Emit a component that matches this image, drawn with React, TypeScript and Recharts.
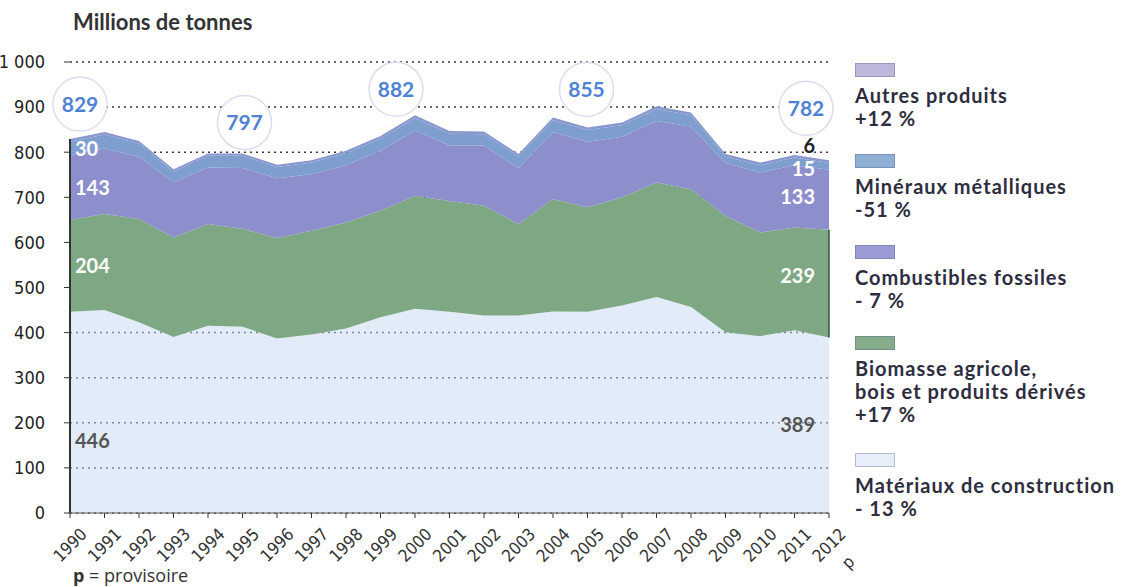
import React from 'react';
import { AreaChart, Area, XAxis, YAxis, CartesianGrid, ReferenceDot, ReferenceLine } from 'recharts';

const YEARS = ['1990', '1991', '1992', '1993', '1994', '1995', '1996', '1997', '1998', '1999', '2000', '2001', '2002', '2003', '2004', '2005', '2006', '2007', '2008', '2009', '2010', '2011', '2012'];
const CONSTRUCTION = [446, 450, 423, 390, 415, 413, 387, 396, 409, 434, 453, 446, 438, 438, 447, 446, 460, 479, 457, 401, 392, 405, 389];
const BIOMASSE = [204, 213, 229, 221, 226, 217, 223, 230, 235, 236, 250, 246, 243, 203, 249, 232, 240, 254, 261, 258, 230, 228, 239];
const FOSSILES = [143, 145, 138, 122, 125, 135, 132, 125, 127, 133, 145, 123, 134, 124, 148, 145, 134, 136, 139, 117, 133, 138, 133];
const MINERAUX = [30, 31, 29, 24, 26, 27, 25, 26, 27, 27, 28, 26, 25, 25, 27, 26, 26, 27, 25, 14, 16, 17, 15];
const AUTRES = [6, 6, 6, 5, 5, 5, 5, 5, 5, 6, 6, 6, 6, 6, 6, 6, 6, 6, 6, 6, 6, 6, 6];
const Y_TICKS = [0, 100, 200, 300, 400, 500, 600, 700, 800, 900, 1000];
const BUBBLE_YEARS = ['1990', '1995', '2000', '2005', '2012'];

// stack order, bottom first
const SERIES = [
  { key: 'construction', values: CONSTRUCTION, name: 'Matériaux de construction', change: '- 13 %', color: '#c6daf1', swatch: '#e6eff9' },
  { key: 'biomasse', values: BIOMASSE, name: 'Biomasse agricole,\nbois et produits dérivés', change: '+17 %', color: '#7ea784', swatch: '#86ad8b' },
  { key: 'fossiles', values: FOSSILES, name: 'Combustibles fossiles', change: '- 7 %', color: '#8d8fcc', swatch: '#9d9bd6' },
  { key: 'mineraux', values: MINERAUX, name: 'Minéraux métalliques', change: '-51 %', color: '#7e9ecd', swatch: '#8eafd3' },
  { key: 'autres', values: AUTRES, name: 'Autres produits', change: '+12 %', color: '#8898cf', swatch: '#bcb8dc' },
];

const data = YEARS.map((year, i) => {
  const row: Record<string, any> = { year };
  SERIES.forEach((s) => (row[s.key] = s.values[i]));
  return row;
});

const total = (i: number) => SERIES.reduce((acc, s) => acc + s.values[i], 0);
const baseOf = (si: number, i: number) => SERIES.slice(0, si).reduce((acc, s) => acc + s.values[i], 0);

// pixel placement of the total bubbles
const BUBBLE_OFFSET: Record<string, [number, number]> = {
  '1990': [10, -35],
  '1995': [2, -31],
  '2000': [-19, -26],
  '2005': [-1, -38],
  '2012': [-23, -52],
};

const labelFont = "Lato, 'Open Sans', sans-serif";
const narrowFont = "'Liberation Sans Narrow', 'DejaVu Sans Condensed', sans-serif";

const YearTick = (props: any) => {
  const { x, y, payload } = props;
  return (
    <g transform={`translate(${x},${y})`}>
      <text transform="translate(0,25) rotate(-45)" textAnchor="middle" dy="0.35em" fontFamily={narrowFont} fontSize={17} fill="#333">
        {payload.value}
      </text>
      {payload.value === '2012' && (
        <text transform="translate(19,42) rotate(-45)" textAnchor="middle" dy="0.35em" fontFamily={narrowFont} fontSize={17} fill="#333">
          p
        </text>
      )}
    </g>
  );
};

const bubbleShape = (year: string, value: number) => (props: any) => {
  const [dx, dy] = BUBBLE_OFFSET[year];
  const cx = props.cx + dx;
  const cy = props.cy + dy;
  return (
    <g>
      <circle cx={cx} cy={cy} r={27} fill="#fff" stroke="#dddcf0" strokeWidth={1.5} />
      <text x={cx} y={cy} dy="0.36em" textAnchor="middle" fontFamily={labelFont} fontWeight={700} fontSize={21} fill="#4f82d4">
        {value}
      </text>
    </g>
  );
};

const bandLabel = (text: number, anchor: 'start' | 'end', color: string, dx: number, dy: number) => (props: any) => (
  <text x={props.cx + dx} y={props.cy + dy} dy="0.36em" textAnchor={anchor} fontFamily={labelFont} fontWeight={700} fontSize={20} fill={color}>
    {text}
  </text>
);

const last = YEARS.length - 1;

const LEFT_LABELS = [
  { si: 0, color: '#555', dy: 28 },
  { si: 1, color: '#fff', dy: 0 },
  { si: 2, color: '#fff', dy: 0 },
  { si: 3, color: '#fff', dy: 0 },
];
const RIGHT_LABELS = [
  { si: 0, color: '#555', dy: 0 },
  { si: 1, color: '#fff', dy: -8 },
  { si: 2, color: '#fff', dy: -3 },
  { si: 3, color: '#fff', dy: 2 },
];

const App = () => {
  return (
    <div style={{ position: 'absolute', left: 0, top: 0, width: 1123, height: 587, background: '#fff', fontFamily: labelFont }}>
      <div style={{ position: 'absolute', left: 73, top: 8, fontSize: 22, fontWeight: 700, color: '#333' }}>Millions de tonnes</div>

      <AreaChart width={1123} height={587} data={data} margin={{ top: 62, right: 294, bottom: 0, left: 0 }}>
        <CartesianGrid vertical={false} stroke="#3a3a3a" strokeWidth={1.5} strokeDasharray="2 4" />
        <XAxis
          dataKey="year"
          height={74}
          interval={0}
          tick={<YearTick />}
          tickSize={5}
          tickLine={{ stroke: '#333' }}
          axisLine={{ stroke: '#555' }}
        />
        <YAxis
          width={70}
          domain={[0, 1000]}
          ticks={Y_TICKS}
          interval={0}
          tickSize={6}
          tickMargin={19}
          axisLine={false}
          tickLine={{ stroke: '#333' }}
          tickFormatter={(v: number) => (v === 1000 ? '1 000' : String(v))}
          tick={{ fontFamily: narrowFont, fontSize: 18, fill: '#222' }}
        />
        {SERIES.map((s) => (
          <Area
            key={s.key}
            type="linear"
            dataKey={s.key}
            stackId="1"
            stroke="none"
            fill={s.color}
            fillOpacity={s.key === 'construction' ? 0.5 : 1}
            isAnimationActive={false}
          />
        ))}
        <ReferenceLine segment={[{ x: YEARS[0], y: 0 }, { x: YEARS[0], y: total(0) }]} stroke="#333" strokeWidth={2} />
        <ReferenceLine
          segment={[{ x: YEARS[last], y: CONSTRUCTION[last] }, { x: YEARS[last], y: CONSTRUCTION[last] + BIOMASSE[last] }]}
          stroke="#2f5a35"
          strokeWidth={1.5}
        />
        {LEFT_LABELS.map((l) => (
          <ReferenceDot
            key={'l' + l.si}
            x={YEARS[0]}
            y={baseOf(l.si, 0) + SERIES[l.si].values[0] / 2}
            r={0}
            shape={bandLabel(SERIES[l.si].values[0], 'start', l.color, 5, l.dy)}
          />
        ))}
        {RIGHT_LABELS.map((l) => (
          <ReferenceDot
            key={'r' + l.si}
            x={YEARS[last]}
            y={baseOf(l.si, last) + SERIES[l.si].values[last] / 2}
            r={0}
            shape={bandLabel(SERIES[l.si].values[last], 'end', l.color, -14, l.dy)}
          />
        ))}
        <ReferenceDot x={YEARS[last]} y={total(last)} r={0} shape={bandLabel(AUTRES[last], 'end', '#222', -14, -15)} />
        {BUBBLE_YEARS.map((y) => {
          const i = YEARS.indexOf(y);
          return <ReferenceDot key={'b' + y} x={y} y={total(i)} r={0} shape={bubbleShape(y, total(i))} />;
        })}
      </AreaChart>

      <div style={{ position: 'absolute', left: 855, top: 63, width: 268, color: '#2d2d3f', fontSize: 20, letterSpacing: 1, fontWeight: 700, lineHeight: '23px' }}>
        {[...SERIES].reverse().map((s) => (
          <div key={s.key} style={{ marginBottom: s.key === 'biomasse' ? 27 : 24 }}>
            <div style={{ width: 38, height: 12, background: s.swatch, border: '1px solid rgba(90,90,140,0.35)', marginBottom: 7 }} />
            {s.name.split('\n').map((line) => (
              <div key={line}>{line}</div>
            ))}
            <div>{s.change}</div>
          </div>
        ))}
      </div>

      <div style={{ position: 'absolute', left: 73, top: 563, fontSize: 18, color: '#333', fontFamily: "'Open Sans', sans-serif" }}>
        <b>p</b> = provisoire
      </div>
    </div>
  );
};

export default App;
